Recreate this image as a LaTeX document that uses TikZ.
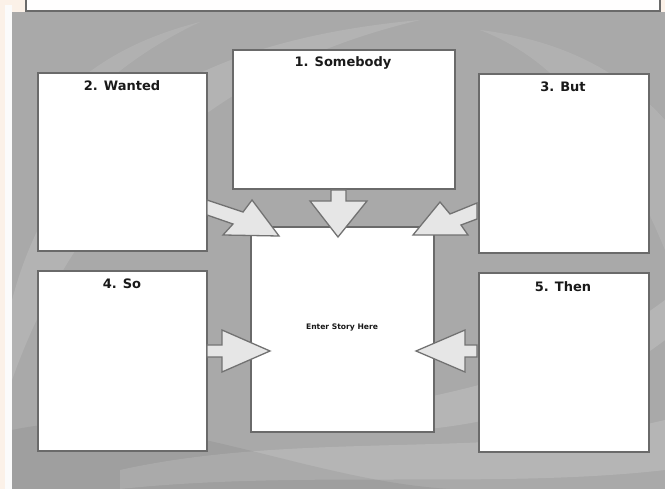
\documentclass[tikz,border=0pt]{standalone}
\usepackage{fontspec}
\setmainfont{DejaVu Sans}
\begin{document}
\begin{tikzpicture}[x=1pt,y=-1pt,
  panel/.style={draw=boxline,fill=white,line width=1.9pt},
  arrowshape/.style={draw=arrline,fill=arrfill,line width=1.3pt,line join=miter},
  title/.style={font=\fontsize{13}{15}\selectfont\bfseries,text=black!90,inner sep=0pt},
  small/.style={font=\fontsize{7.6}{9}\selectfont\bfseries,text=black!90,inner sep=0pt}]
\definecolor{cream}{HTML}{FBF1E8}
\definecolor{bggrey}{HTML}{A9A9A9}
\definecolor{boxline}{HTML}{6A6A6A}
\definecolor{arrline}{HTML}{727272}
\definecolor{arrfill}{HTML}{E6E6E6}
\useasboundingbox (0,0) rectangle (665,489);
% page background
\fill[cream] (0,0) rectangle (665,489);
\fill[white!97!gray] (5,5) rectangle (12,489);
% top strip box
\fill[white!95!cream] (26,0) rectangle (660,11);
\draw[boxline,line width=1.4pt] (26,0) -- (26,11) -- (660,11) -- (660,0);
% grey panel
\fill[bggrey] (12,12) rectangle (665,489);
% swirls
\begin{scope}
\clip (12,12) rectangle (665,489);
\fill[white,opacity=0.12] (12,300) .. controls (60,120) and (200,40) .. (420,20) .. controls (250,60) and (90,160) .. (12,380) -- cycle;
\fill[white,opacity=0.10] (40,120) .. controls (80,70) and (130,40) .. (200,22) .. controls (140,50) and (90,90) .. (50,140) -- cycle;
\fill[white,opacity=0.15] (300,420) .. controls (420,400) and (560,380) .. (665,300) -- (665,340) .. controls (560,420) and (430,440) .. (300,430) -- cycle;
\fill[white,opacity=0.15] (120,470) .. controls (300,430) and (500,460) .. (665,420) -- (665,470) .. controls (500,489) and (300,470) .. (120,489) -- cycle;
\fill[black,opacity=0.06] (12,430) .. controls (150,400) and (300,480) .. (450,489) -- (12,489) -- cycle;
\fill[white,opacity=0.10] (480,30) .. controls (560,60) and (620,140) .. (665,250) -- (665,120) .. controls (620,70) and (560,40) .. (480,30) -- cycle;
\end{scope}
% boxes
\node[panel,minimum width=222pt,minimum height=139pt,anchor=north west] (somebody) at (232,49) {};
\node[panel,minimum width=169pt,minimum height=178pt,anchor=north west] (wanted) at (37,72) {};
\node[panel,minimum width=170pt,minimum height=179pt,anchor=north west] (but) at (478,73) {};
\node[panel,minimum width=169pt,minimum height=180pt,anchor=north west] (so) at (37,270) {};
\node[panel,minimum width=170pt,minimum height=179pt,anchor=north west] (then) at (478,272) {};
\node[panel,minimum width=183pt,minimum height=205pt,anchor=north west] (story) at (250,226) {};
% arrows
\draw[arrowshape] (somebody.south -| 331,0) -- (331,201) -- (310,201) -- (338,237) -- (367,201) -- (346,201) -- (somebody.south -| 346,0) -- cycle;
\draw[arrowshape] (207,200) -- (243,212) -- (252,200) -- (279,236) -- (223,235) -- (233,224) -- (207,215) -- cycle;
\draw[arrowshape] (477,203) -- (450,214) -- (440,202) -- (413,235) -- (468,235) -- (461,225) -- (477,219) -- cycle;
\draw[arrowshape] (207,345) -- (222,345) -- (222,330) -- (270,351) -- (222,372) -- (222,357) -- (207,357) -- cycle;
\draw[arrowshape] (477,345) -- (465,345) -- (465,330) -- (416,351) -- (465,372) -- (465,357) -- (477,357) -- cycle;
% texts
\node[title] (t1) at (343,63) {1. Somebody};
\node[title] (t2) at (122,86) {2. Wanted};
\node[title] (t3) at (563,87) {3. But};
\node[title] (t4) at (122,284) {4. So};
\node[title] (t5) at (563,287) {5. Then};
\node[small] (t6) at (342,328) {Enter Story Here};
\end{tikzpicture}
\end{document}
